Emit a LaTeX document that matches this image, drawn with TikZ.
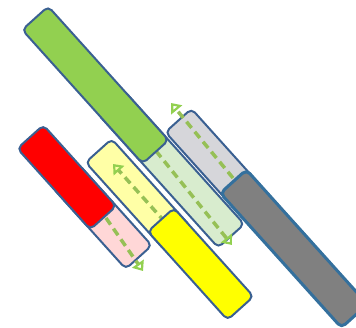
\documentclass[tikz,border=0pt]{standalone}
\usepackage{xcolor}
\definecolor{barblue}{RGB}{58,96,146}
\definecolor{bargreen}{RGB}{146,208,80}
\definecolor{palegreen}{RGB}{216,236,206}
\definecolor{barred}{RGB}{255,0,0}
\definecolor{palered}{RGB}{255,215,215}
\definecolor{baryellow}{RGB}{255,255,0}
\definecolor{paleyellow}{RGB}{255,255,166}
\definecolor{bargray}{RGB}{128,128,128}
\definecolor{palegray}{RGB}{214,214,218}
\definecolor{dashgreen}{RGB}{150,192,86}
\usetikzlibrary{arrows.meta}

\begin{document}
\begin{tikzpicture}[x=1pt,y=-1pt,
  bar/.style={draw=barblue,line width=2pt,rounded corners=5pt,rotate=-48,
    minimum height=35pt,inner sep=0pt},
  move/.style={draw=dashgreen,line width=3.5pt,dash pattern=on 8pt off 5pt,
    -{Triangle[open,length=9pt,width=14pt,line width=2.2pt,color=bargreen]}}
]
  \useasboundingbox (0,0) rectangle (356,327);
  \clip (0,0) rectangle (356,327);
  % Pale boxes underneath
  \node[bar,fill=palegreen,minimum width=180pt] (lgreen) at (171,169) {};
  \node[bar,fill=palered,minimum width=109pt] (pink) at (102.3,216.7) {};
  \node[bar,fill=paleyellow,minimum width=119pt] (lyellow) at (138.5,194.9) {};
  \node[bar,fill=palegray,minimum width=181pt] (lgray) at (239,187.7) {};
  % Dashed moves
  \coordinate (pinkA) at (106,218);
  \coordinate (pinkB) at (143,271);
  \coordinate (lgreenA) at (156,151);
  \coordinate (lgreenB) at (232,245);
  \coordinate (lyellowA) at (165,222);
  \coordinate (lyellowB) at (113,164);
  \coordinate (lgrayA) at (233,178);
  \coordinate (lgrayB) at (171,103);
  \draw[move] (pinkA) -- (pinkB);
  \draw[move] (lgreenA) -- (lgreenB);
  \draw[move] (lyellowA) -- (lyellowB);
  \draw[move] (lgrayA) -- (lgrayB);
  % Solid boxes on top
  \node[bar,fill=bargreen,minimum width=180pt] (green) at (95.4,85) {};
  \node[bar,fill=barred,minimum width=109pt] (red) at (66.8,177.3) {};
  \node[bar,fill=baryellow,minimum width=119pt] (yellow) at (200.7,264) {};
  \node[bar,fill=bargray,line width=3pt,draw=barblue!90!cyan,minimum width=181pt] (gray) at (293.9,248.7) {};
\end{tikzpicture}
\end{document}
